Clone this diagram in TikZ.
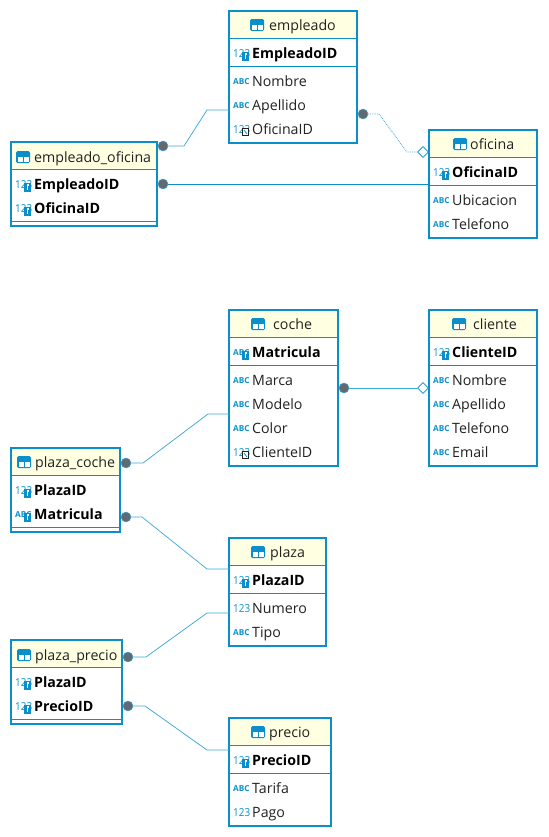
\documentclass[tikz,border=0pt]{standalone}
\usepackage{fontspec}
\usepackage{graphicx}
\usetikzlibrary{shapes.geometric}
\setmainfont{Open Sans}
\definecolor{boxblue}{HTML}{0A8FCB}
\definecolor{linkblue}{HTML}{3FA9D8}
\definecolor{hdr}{HTML}{FFFFE1}
\definecolor{dotgrey}{HTML}{626A70}
\definecolor{txt}{HTML}{222222}
\tikzset{
  tbl/.style={draw=boxblue,line width=2.4bp,anchor=north west,inner sep=0,outer sep=0,fill=white},
  title/.style={anchor=base west,inner sep=0,text=txt,font=\fontsize{14.2bp}{16bp}\selectfont},
  rowplain/.style={anchor=base west,inner sep=0,text=txt,font=\fontsize{14.2bp}{16bp}\selectfont},
  rowkey/.style={anchor=base west,inner sep=0,text=black,font=\fontsize{14.2bp}{16bp}\selectfont\bfseries},
  icontxt/.style={anchor=base west,inner sep=0,text=boxblue},
  sep/.style={draw=boxblue,line width=1bp},
  link/.style={draw=boxblue,line width=0.9bp},
  softlink/.style={draw=linkblue,line width=0.75bp},
  dotlink/.style={draw=linkblue,line width=0.8bp,densely dotted},
  enddot/.style={circle,fill=dotgrey,draw=linkblue,line width=0.5bp,minimum size=10bp,inner sep=0},
  enddia/.style={diamond,draw=boxblue,fill=white,line width=0.8bp,minimum width=11bp,minimum height=11bp,inner sep=0}
}
% name, left, top, right, bottom, header-line y
\newcommand{\tbox}[6]{%
  \pgfmathsetmacro{\boxw}{#4-#2}\pgfmathsetmacro{\boxh}{#5-#3}%
  \node[tbl,minimum width=\boxw bp,minimum height=\boxh bp] (#1) at (#2,#3) {};%
  \fill[hdr] (#2+1,#3+1) rectangle (#4-1,#6);%
  \draw[sep] (#2,#6) -- (#4,#6);}
\newcommand{\sepline}[3]{\draw[sep] (#1,#3) -- (#2,#3);}
% table icon x, centre y
\newcommand{\ticon}[2]{%
  \fill[boxblue,rounded corners=1.5bp] (#1,#2-6) rectangle (#1+14,#2+6);
  \fill[white] (#1+1.5,#2-0.5) rectangle (#1+6.5,#2+4.5);
  \fill[white] (#1+7.5,#2-0.5) rectangle (#1+12.5,#2+4.5);}
% icons: x, centre y
\newcommand{\iabc}[2]{\node[icontxt,font=\fontsize{8.2bp}{9bp}\selectfont\bfseries] at (#1,#2+3.2) {ABC};}
\newcommand{\inum}[2]{\node[icontxt,font=\fontsize{11bp}{12bp}\selectfont] at (#1,#2+4) {\scalebox{0.9}[1]{123}};}
\newcommand{\ibadge}[2]{%
  \fill[boxblue] (#1+9,#2-1.5) rectangle (#1+16,#2+7.5);
  \fill[white] (#1+11.5,#2+0) rectangle (#1+13.5,#2+2);
  \draw[white,line width=0.7bp] (#1+12.5,#2+2) -- (#1+12.5,#2+5.5);}
\newcommand{\ifk}[2]{%
  \draw[fill=white,draw=txt,line width=0.8bp] (#1+9.5,#2-0.5) rectangle (#1+15.5,#2+6.5);
  \draw[boxblue,line width=0.8bp] (#1+11,#2+1) -- (#1+14,#2+5);}
\newcommand{\ikeynum}[2]{\inum{#1}{#2}\ibadge{#1}{#2}}
\newcommand{\ikeyabc}[2]{\iabc{#1}{#2}\ibadge{#1}{#2}}
\newcommand{\ifknum}[2]{\inum{#1}{#2}\ifk{#1}{#2}}
% node name, icon macro, box left, y, text, style
\newcommand{\row}[6]{#2{#3+4}{#4}\node[#6] (#1) at (#3+23,#4+5.7) {#5};}
\newcommand{\ttl}[5]{\ticon{#2}{#4}\node[title] (#1) at (#3,#4+5.5) {#5};}
\begin{document}
\begin{tikzpicture}[x=1bp,y=-1bp]
\useasboundingbox (0,0) rectangle (549,837);
\fill[white] (0,0) rectangle (549,837);
% tables
\tbox{empleado}{229}{11}{357}{143}{38}
\sepline{229}{357}{66}
\ttl{t1}{250}{269}{25}{empleado}
\row{a1}{\ikeynum}{229}{53}{EmpleadoID}{rowkey}
\row{a2}{\iabc}{229}{81}{Nombre}{rowplain}
\row{a3}{\iabc}{229}{105}{Apellido}{rowplain}
\row{a4}{\ifknum}{229}{129}{OficinaID}{rowplain}
\tbox{empof}{11}{142}{157}{226}{169}
\sepline{11}{157}{221}
\ttl{t2}{16}{34}{157}{empleado\_oficina}
\row{b1}{\ikeynum}{11}{184}{EmpleadoID}{rowkey}
\row{b2}{\ikeynum}{11}{208}{OficinaID}{rowkey}
\tbox{oficina}{429}{130}{537}{238}{157}
\sepline{429}{537}{185}
\ttl{t3}{453}{470}{144}{oficina}
\row{c1}{\ikeynum}{429}{172}{OficinaID}{rowkey}
\row{c2}{\iabc}{429}{200}{Ubicacion}{rowplain}
\row{c3}{\iabc}{429}{224}{Telefono}{rowplain}
\tbox{coche}{229}{310}{338}{466}{337}
\sepline{229}{338}{365}
\ttl{t4}{251}{273}{324}{coche}
\row{e1}{\ikeyabc}{229}{352}{Matricula}{rowkey}
\row{e2}{\iabc}{229}{380}{Marca}{rowplain}
\row{e3}{\iabc}{229}{404}{Modelo}{rowplain}
\row{e4}{\iabc}{229}{428}{Color}{rowplain}
\row{e5}{\ifknum}{229}{452}{ClienteID}{rowplain}
\tbox{cliente}{429}{310}{537}{466}{337}
\sepline{429}{537}{365}
\ttl{t5}{452}{473}{324}{cliente}
\row{f1}{\ikeynum}{429}{352}{ClienteID}{rowkey}
\row{f2}{\iabc}{429}{380}{Nombre}{rowplain}
\row{f3}{\iabc}{429}{404}{Apellido}{rowplain}
\row{f4}{\iabc}{429}{428}{Telefono}{rowplain}
\row{f5}{\iabc}{429}{452}{Email}{rowplain}
\tbox{plcoche}{11}{448}{120}{532}{475}
\sepline{11}{120}{527}
\ttl{t6}{17}{35}{462}{plaza\_coche}
\row{g1}{\ikeynum}{11}{490}{PlazaID}{rowkey}
\row{g2}{\ikeyabc}{11}{514}{Matricula}{rowkey}
\tbox{plaza}{229}{538}{326}{646}{565}
\sepline{229}{326}{593}
\ttl{t7}{251}{270}{552}{plaza}
\row{h1}{\ikeynum}{229}{580}{PlazaID}{rowkey}
\row{h2}{\inum}{229}{608}{Numero}{rowplain}
\row{h3}{\iabc}{229}{632}{Tipo}{rowplain}
\tbox{plprecio}{11}{640}{122}{724}{667}
\sepline{11}{122}{719}
\ttl{t8}{17}{35}{655}{plaza\_precio}
\row{i1}{\ikeynum}{11}{682}{PlazaID}{rowkey}
\row{i2}{\ikeynum}{11}{706}{PrecioID}{rowkey}
\tbox{precio}{229}{718}{331}{826}{745}
\sepline{229}{331}{773}
\ttl{t9}{251}{269}{732}{precio}
\row{j1}{\ikeynum}{229}{760}{PrecioID}{rowkey}
\row{j2}{\iabc}{229}{788}{Tarifa}{rowplain}
\row{j3}{\inum}{229}{812}{Pago}{rowplain}
% connector ends
\node[enddot] (d1) at (163,146) {};
\node[enddot] (d2) at (363,114) {};
\node[enddot] (d3) at (163,184) {};
\node[enddot] (d4) at (344,388) {};
\node[enddot] (d5) at (126,463) {};
\node[enddot] (d6) at (126,517) {};
\node[enddot] (d7) at (128,657) {};
\node[enddot] (d8) at (128,706) {};
\node[enddia] (m1) at (423,152) {};
\node[enddia] (m2) at (423,388) {};
% connectors
\draw[softlink] (d1) -- (184,146) -- (207,110) -- (empleado.west |- 0,110);
\draw[dotlink] (d2) -- (379,114) -- (407,152) -- (m1);
\draw[link] (d3) -- (oficina.west |- d3);
\draw[softlink] (d4) -- (m2);
\draw[softlink] (d5) -- (143,463) -- (208,414) -- (coche.west |- 0,414);
\draw[softlink] (d6) -- (142,517) -- (207,569) -- (plaza.west |- 0,569);
\draw[softlink] (d7) -- (146,657) -- (207,613) -- (plaza.west |- 0,613);
\draw[softlink] (d8) -- (145,706) -- (207,750) -- (precio.west |- 0,750);
\end{tikzpicture}
\end{document}
